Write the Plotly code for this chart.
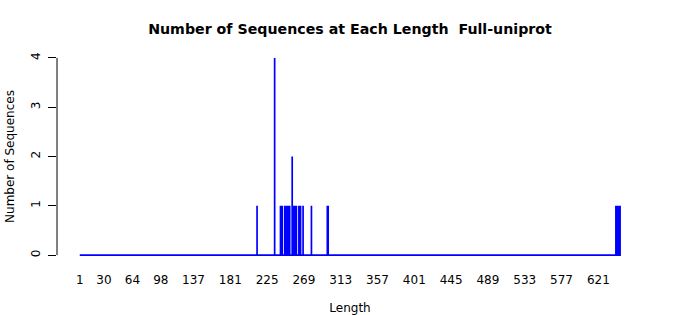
import plotly.graph_objects as go

# ---- data ----
seq_lengths = [213, 234, 241, 242, 243, 246, 247, 249, 250, 252, 255, 257, 258,
               260, 263, 265, 268, 278, 297, 298, 642, 643, 645, 646, 647]
seq_counts = [1, 4, 1, 1, 1, 1, 1, 1, 1, 1, 2, 1, 1,
              1, 1, 1, 1, 1, 1, 1, 1, 1, 1, 1, 1]
min_length = 1
max_length = 647
tick_values = [1, 30, 64, 98, 137, 181, 225, 269, 313, 357, 401, 445, 489, 533, 577, 621]
tick_labels = [str(v) for v in tick_values]
y_ticks = [0, 1, 2, 3, 4]

count_by_len = dict(zip(seq_lengths, seq_counts))
xs, ys = [], []
for L in range(min_length, max_length + 1):
    c = count_by_len.get(L, 0)
    xs += [L, L, L]
    ys += [0, c, 0]

fig = go.Figure()
fig.add_trace(go.Scatter(x=xs, y=ys, mode="lines",
                         line=dict(color="#0000FF", width=1.7),
                         hoverinfo="skip", showlegend=False))

font = "DejaVu Sans, Liberation Sans, sans-serif"
fig.update_layout(
    width=700, height=315,
    margin=dict(l=57, r=57, t=50, b=52, autoexpand=False),
    paper_bgcolor="white", plot_bgcolor="white",
    font=dict(family=font, size=12, color="black"),
    title=dict(text="<b>Number of Sequences at Each Length  Full-uniprot</b>",
               x=0.5, xanchor="center", y=1 - 29 / 315, yanchor="middle",
               font=dict(size=14.2, family=font, color="black")),
    showlegend=False,
)
fig.update_xaxes(range=[-26.2, 674.4], tickmode="array", tickvals=tick_values,
                 ticktext=tick_labels, ticks="", showline=False, showgrid=False,
                 zeroline=False, ticklabelstandoff=8, automargin=False,
                 tickfont=dict(size=12),
                 title=dict(text="Length", font=dict(size=12), standoff=17))
fig.update_yaxes(range=[-0.16, 4.16], tickmode="array", tickvals=y_ticks,
                 ticks="outside", ticklen=8, tickwidth=1, tickcolor="black",
                 showline=False, showgrid=False, zeroline=False, automargin=False,
                 tickangle=-90, ticklabelstandoff=3, tickfont=dict(size=12),
                 title=dict(text="Number of Sequences", font=dict(size=12), standoff=12))
fig.add_shape(type="line", xref="paper", yref="y", x0=0, x1=0, y0=0, y1=4,
              line=dict(color="black", width=1))

fig.write_html("out.html")
